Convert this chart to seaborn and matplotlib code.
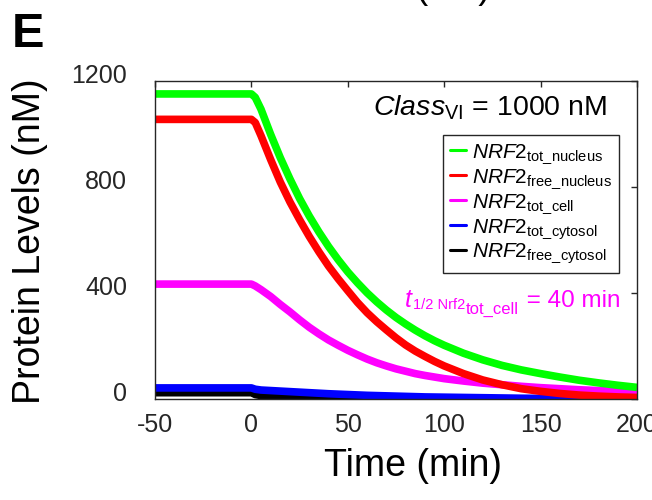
import numpy as np
import pandas as pd
import matplotlib
matplotlib.use("Agg")
import matplotlib.pyplot as plt
import matplotlib.transforms as mtransforms
import seaborn as sns

# ---------------- data ----------------
time = [-50, 0, 2, 5, 10, 15, 20, 25, 30, 35, 40, 45, 50, 55, 60, 65, 70, 75, 80, 85, 90, 95, 100,
        110, 120, 130, 140, 150, 160, 170, 180, 190, 200]
tot_nucleus = [1153, 1153, 1140, 1095, 1000, 912, 832, 758, 692, 632, 577, 527, 481, 440, 402, 368,
               337, 309, 284, 261, 240, 221, 204, 174, 149, 128, 111, 97, 84, 72, 62, 53, 45]
free_nucleus = [1057, 1057, 1045, 995, 905, 820, 745, 678, 615, 557, 503, 455, 410, 366, 327, 293,
                262, 232, 205, 182, 162, 143, 126, 97, 73, 55, 40, 30, 22, 16, 12, 9, 7]
tot_cell = [435, 435, 428, 414, 388, 358, 330, 300, 272, 247, 224, 204, 185, 168, 152, 138,
            126, 115, 106, 97, 90, 84, 78, 69, 61, 55, 49, 44, 40, 36, 33, 30, 28]
tot_cytosol = [43, 43, 38, 35, 33, 31, 29, 27, 25, 23, 21, 19.5, 18, 16.5, 15, 14,
               13, 12, 11, 10, 9, 8.5, 8, 7, 6, 5, 4, 3.5, 3, 2.5, 2, 1.5, 1.5]
free_cytosol = [25, 25, 18, 14, 12, 11, 10, 9, 8, 7, 6, 5.5, 5, 4.5, 4, 3.8,
                3.5, 3.2, 3, 2.8, 2.5, 2.2, 2, 1.7, 1.4, 1.2, 1, 0.9, 0.8, 0.7, 0.6, 0.5, 0.5]

series_keys = ["tot_nucleus", "free_nucleus", "tot_cell", "tot_cytosol", "free_cytosol"]
series_vals = [tot_nucleus, free_nucleus, tot_cell, tot_cytosol, free_cytosol]
series_colors = ["#00ff00", "#ff0000", "#ff00ff", "#0000ff", "#000000"]
legend_labels = [r"$\mathit{NRF2}_{\mathrm{tot\_nucleus}}$",
                 r"$\mathit{NRF2}_{\mathrm{free\_nucleus}}$",
                 r"$\mathit{NRF2}_{\mathrm{tot\_cell}}$",
                 r"$\mathit{NRF2}_{\mathrm{tot\_cytosol}}$",
                 r"$\mathit{NRF2}_{\mathrm{free\_cytosol}}$"]
x_ticks = [-50, 0, 50, 100, 150, 200]
y_ticks = [0, 400, 800, 1200]

# ---------------- style ----------------
sns.set_style("white")
plt.rcParams["font.family"] = ["Liberation Sans", "DejaVu Sans"]
plt.rcParams["mathtext.fontset"] = "custom"
plt.rcParams["mathtext.rm"] = "Liberation Sans"
plt.rcParams["mathtext.it"] = "Liberation Sans:italic"
plt.rcParams["mathtext.bf"] = "Liberation Sans:bold"
plt.rcParams["text.color"] = "black"

W, H = 652, 500
fig = plt.figure(figsize=(W / 100, H / 100), dpi=100)
ax_l, ax_r, ax_t, ax_b = 155, 637, 81.5, 399.3
ax = fig.add_axes([ax_l / W, 1 - ax_b / H, (ax_r - ax_l) / W, (ax_b - ax_t) / H])

df = pd.concat([pd.DataFrame({"time": time, "value": v, "series": k})
                for k, v in zip(series_keys, series_vals)], ignore_index=True)
draw_order = series_keys[::-1]
palette = dict(zip(series_keys, series_colors))
sns.lineplot(data=df, x="time", y="value", hue="series", hue_order=draw_order,
             palette=palette, linewidth=5.5, ax=ax, legend=False, sort=False)
for ln in ax.lines:
    ln.set_solid_joinstyle("round")
    ln.set_solid_capstyle("butt")

ax.set_xlim(-50, 200)
ax.set_ylim(0, 1200)
ax.set_xticks(x_ticks)
ax.set_yticks(y_ticks)
ax.set_xticklabels([str(v) for v in x_ticks])
ax.set_yticklabels([str(v) for v in y_ticks])
ax.tick_params(direction="in", length=4, width=1, top=True, right=True,
               labelsize=18, labelcolor="#262626", color="#262626")
ax.tick_params(axis="x", pad=10)
ax.tick_params(axis="y", pad=20)
for s in ax.spines.values():
    s.set_color("#262626")
    s.set_linewidth(1.0)
    s.set_visible(True)

# y tick labels sit a bit above their ticks in the reference
shift = mtransforms.ScaledTranslation(0, 0.08, fig.dpi_scale_trans)
for lab in ax.get_yticklabels():
    lab.set_transform(lab.get_transform() + shift)

ax.set_xlabel("Time (min)", fontsize=27, color="black", va="center")
ax.xaxis.set_label_coords((413 - ax_l) / (ax_r - ax_l), (ax_b - 466) / (ax_b - ax_t))
ax.set_ylabel("Protein Levels (nM)", fontsize=27, color="black", va="center")
ax.yaxis.set_label_coords((30 - ax_l) / (ax_r - ax_l), (ax_b - 241.5) / (ax_b - ax_t))

# legend
handles = [plt.Line2D([], [], color=c, linewidth=2.2) for c in series_colors]
leg = ax.legend(handles, legend_labels, loc="upper right",
                bbox_to_anchor=((619 - ax_l) / (ax_r - ax_l), (ax_b - 135) / (ax_b - ax_t)),
                borderaxespad=0, fontsize=15, frameon=True, fancybox=False,
                handlelength=0.75, handletextpad=0.3, labelspacing=0.05,
                borderpad=0.35, edgecolor="#262626", framealpha=1)
leg.get_frame().set_linewidth(1.0)

# Class annotation
ax.text((606.7 - ax_l) / (ax_r - ax_l), (ax_b - 116) / (ax_b - ax_t),
        r"$\mathit{Class}_{\mathrm{VI}}$ = 1000 nM", transform=ax.transAxes,
        ha="right", va="baseline", fontsize=20.5, color="black")

# half-life annotation built from chained pieces
fig.canvas.draw()
renderer = fig.canvas.get_renderer()
pieces = [("t", 18, "italic", 0), ("1/2 Nrf2", 10.5, "normal", -2),
          ("tot_cell", 12, "normal", -7), (" = 40 min", 17.5, "normal", 0)]
cur_x = 405
base_y = 306.7
for s, size, style, dy in pieces:
    t = fig.text(cur_x / W, 1 - (base_y - dy) / H, s, fontsize=size, style=style,
                 color="#ff00ff", ha="left", va="baseline")
    ext = t.get_window_extent(renderer)
    cur_x = ext.x1 + 1

# panel letter and cut-off title remnant
fig.text(12 / W, 1 - 34 / H, "E", fontsize=35, fontweight="bold", color="black",
         ha="left", va="center")
fig.text(454 / W, 1 + 2 / H, "(nM)", fontsize=26.5, ha="center", va="baseline")

fig.savefig("out.png", dpi=100)
